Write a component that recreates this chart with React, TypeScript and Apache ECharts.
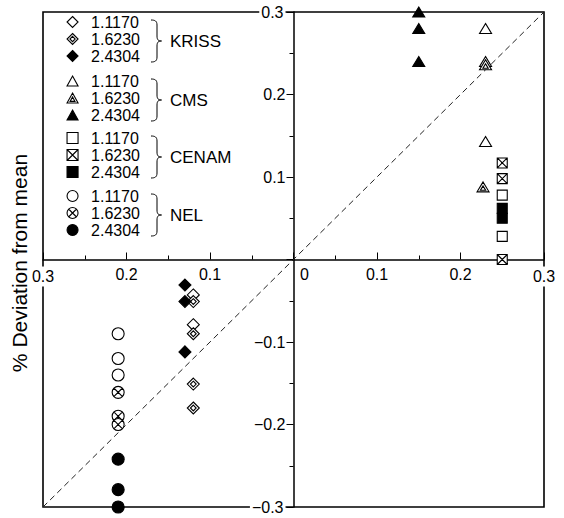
import React, { useEffect, useRef } from "react";
import * as echarts from "echarts";

// ---- data (x, y) in % deviation from mean ----
const GROUPS = ["KRISS", "CMS", "CENAM", "NEL"];
const WAVES = ["1.1170", "1.6230", "2.4304"];

const KRISS_1117 = [[-0.12, -0.043], [-0.12, -0.079]];
const KRISS_1623 = [[-0.12, -0.051], [-0.12, -0.09], [-0.12, -0.151], [-0.12, -0.18]];
const KRISS_2430 = [[-0.13, -0.031], [-0.13, -0.051], [-0.13, -0.112]];

const CMS_1117 = [[0.23, 0.28], [0.23, 0.24], [0.23, 0.143]];
const CMS_1623 = [[0.23, 0.236], [0.227, 0.088]];
const CMS_2430 = [[0.15, 0.3], [0.15, 0.28], [0.15, 0.24]];

const CENAM_1117 = [[0.25, 0.078], [0.25, 0.028]];
const CENAM_1623 = [[0.25, 0.117], [0.25, 0.098], [0.25, 0.0]];
const CENAM_2430 = [[0.25, 0.062], [0.25, 0.05]];

const NEL_1117 = [[-0.21, -0.09], [-0.21, -0.12], [-0.21, -0.14]];
const NEL_1623 = [[-0.21, -0.161], [-0.21, -0.19], [-0.21, -0.2]];
const NEL_2430 = [[-0.21, -0.242], [-0.21, -0.279], [-0.21, -0.3]];

const DIAGONAL = [[-0.3, -0.3], [0.3, 0.3]];

const AXIS_MIN = -0.3;
const AXIS_MAX = 0.3;
const AXIS_STEP = 0.1;
const Y_TITLE = "% Deviation from mean";

const DATA: Record<string, number[][][]> = {
  KRISS: [KRISS_1117, KRISS_1623, KRISS_2430],
  CMS: [CMS_1117, CMS_1623, CMS_2430],
  CENAM: [CENAM_1117, CENAM_1623, CENAM_2430],
  NEL: [NEL_1117, NEL_1623, NEL_2430],
};

// ---- symbols ----
const DIAMOND = "M5,0L10,5L5,10L0,5Z";
const TRI = "M5,0L10,9L0,9Z";
const SQUARE = "M0,0L10,0L10,10L0,10Z";
const CIRCLE = "M5,0A5,5 0 1 1 5,10A5,5 0 1 1 5,0Z";
const SYMBOLS: Record<string, string[]> = {
  KRISS: [
    "path://" + DIAMOND,
    "path://" + DIAMOND + " M5,2.6L7.4,5L5,7.4L2.6,5Z",
    "path://" + DIAMOND,
  ],
  CMS: [
    "path://" + TRI,
    "path://" + TRI + " M5,3.6L7.2,7.6L2.8,7.6Z",
    "path://" + TRI,
  ],
  CENAM: [
    "path://" + SQUARE,
    "path://" + SQUARE + " M0,0L10,10 M10,0L0,10",
    "path://" + SQUARE,
  ],
  NEL: [
    "path://" + CIRCLE,
    "path://" + CIRCLE + " M1.6,1.6L8.4,8.4 M8.4,1.6L1.6,8.4",
    "path://" + CIRCLE,
  ],
};
const SIZES: Record<string, number[]> = {
  KRISS: [12, 12],
  CMS: [12, 11],
  CENAM: [10, 10],
  NEL: [12, 12],
};
const LEG_TOP = [14, 73, 130, 188];
const FONT = "'Liberation Sans', Arial, Helvetica, sans-serif";

const GRID = { left: 43, top: 12, width: 501, height: 495 };

const BRACE_D =
  "M0,0 C4,0 6,1 6,5 L6,16 C6,19.5 7,21 10.5,21 C7,21 6,22.5 6,26 L6,37 C6,41 4,42 0,42";
let braceRegistered = false;

export default function App() {
  const ref = useRef<HTMLDivElement>(null);
  useEffect(() => {
    if (!braceRegistered) {
      echarts.graphic.registerShape("brace", echarts.graphic.extendPath(BRACE_D, {}) as any);
      braceRegistered = true;
    }
    const chart = echarts.init(ref.current!, null, { renderer: "svg" });

    const scatterSeries: any[] = [];
    GROUPS.forEach((g) => {
      WAVES.forEach((w, k) => {
        const filled = k === 2;
        scatterSeries.push({
          type: "scatter",
          name: g + "|" + w,
          data: DATA[g][k],
          symbol: SYMBOLS[g][k],
          symbolSize: SIZES[g],
          symbolKeepAspect: true,
          clip: false,
          z: filled ? 4 : 3,
          itemStyle: {
            color: filled ? "#000" : "#fff",
            borderColor: "#000",
            borderWidth: 1.1,
            opacity: 1,
          },
          emphasis: { disabled: true },
        });
      });
    });

    const endRich = { backgroundColor: "#fff", padding: [2, 2], fontSize: 16, color: "#000", fontFamily: FONT };

    const option: any = {
      animation: false,
      backgroundColor: "#fff",
      textStyle: { fontFamily: FONT, color: "#000" },
      grid: {
        ...GRID,
        outerBoundsMode: "none",
        containLabel: false,
        show: true,
        borderColor: "#000",
        borderWidth: 1.6,
        backgroundColor: "transparent",
      },
      xAxis: {
        type: "value",
        min: AXIS_MIN,
        max: AXIS_MAX,
        interval: AXIS_STEP,
        position: "bottom",
        offset: -GRID.height / 2,
        axisLine: { onZero: false, lineStyle: { color: "#000", width: 1.5 } },
        axisTick: { show: true, inside: true, length: 7, lineStyle: { color: "#000", width: 1 } },
        minorTick: { show: true, splitNumber: 2, length: 4, lineStyle: { color: "#000", width: 1 } },
        splitLine: { show: false },
        axisLabel: {
          fontSize: 16,
          color: "#000",
          margin: 7,
          formatter: (v: number) => {
            if (Math.abs(v) < 1e-9) return "{z|0}";
            const s = Math.abs(v).toFixed(1);
            if (Math.abs(v) > 0.29) return "{e|" + s + "}";
            return s;
          },
          rich: {
            e: endRich,
            z: { padding: [0, 0, 0, 22], fontSize: 16, color: "#000", fontFamily: FONT },
          },
        },
      },
      yAxis: {
        type: "value",
        min: AXIS_MIN,
        max: AXIS_MAX,
        interval: AXIS_STEP,
        position: "left",
        offset: -GRID.width / 2,
        axisLine: { onZero: false, lineStyle: { color: "#000", width: 1.5 } },
        axisTick: { show: true, inside: false, length: 7, lineStyle: { color: "#000", width: 1 } },
        minorTick: { show: true, splitNumber: 2, length: 4, lineStyle: { color: "#000", width: 1 } },
        splitLine: { show: false },
        axisLabel: {
          fontSize: 16,
          color: "#000",
          margin: 8,
          formatter: (v: number) => {
            if (Math.abs(v) < 1e-9) return "";
            const s = (v < 0 ? "\u2212" : "") + Math.abs(v).toFixed(1);
            if (Math.abs(v) > 0.29) return "{e|" + s + "}";
            return s;
          },
          rich: { e: endRich },
        },
      },
      legend: GROUPS.map((g, i) => ({
        data: WAVES.map((w) => g + "|" + w),
        orient: "vertical",
        left: 66.5,
        top: LEG_TOP[i],
        padding: 0,
        itemGap: 1,
        itemWidth: 11,
        itemHeight: 11,
        symbolKeepAspect: true,
        selectedMode: false,
        formatter: (n: string) => n.split("|")[1],
        textStyle: { fontSize: 16, color: "#000", fontFamily: FONT, padding: [0, 0, 0, 8] },
        itemStyle: { borderWidth: 1.1 },
      })),
      graphic: [
        ...GROUPS.flatMap((g, i) => [
          {
            type: "brace",
            x: 151,
            y: LEG_TOP[i] + 6,
            style: { stroke: "#000", fill: "none", lineWidth: 1 },
            silent: true,
          },
          {
            type: "text",
            x: 170,
            y: LEG_TOP[i] + 27.5,
            style: {
              text: g,
              fontSize: 17,
              fontFamily: FONT,
              fill: "#000",
              verticalAlign: "middle",
              textVerticalAlign: "middle",
            },
            silent: true,
          },
        ]),
        {
          type: "text",
          x: 19,
          y: 263,
          rotation: Math.PI / 2,
          style: {
            text: Y_TITLE,
            fontSize: 21,
            fontFamily: FONT,
            fill: "#000",
            align: "center",
            textAlign: "center",
            verticalAlign: "middle",
            textVerticalAlign: "middle",
          },
          silent: true,
        },
      ],
      series: [
        {
          type: "line",
          data: DIAGONAL,
          symbol: "none",
          z: 1,
          lineStyle: { color: "#222", width: 1, type: [6, 4] },
          silent: true,
        },
        ...scatterSeries,
      ],
    };
    chart.setOption(option);
    return () => chart.dispose();
  }, []);

  return (
    <div
      ref={ref}
      style={{ position: "absolute", left: 0, top: 0, width: 564, height: 518 }}
    />
  );
}
